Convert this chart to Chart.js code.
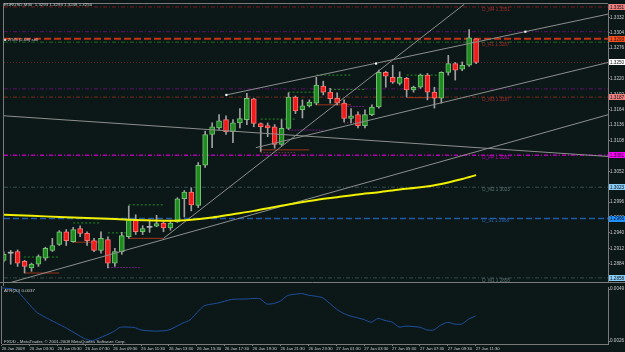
<!DOCTYPE html>
<html><head><meta charset="utf-8">
<script src="https://cdn.jsdelivr.net/npm/chart.js@4.4.1/dist/chart.umd.min.js"></script>
<style>
html,body{margin:0;padding:0;background:#0c1818;overflow:hidden;}
#main{position:absolute;left:0;top:0;}
#atr{position:absolute;left:0;top:286px;}
</style></head><body>
<canvas id="main" width="625" height="286"></canvas>
<canvas id="atr" width="625" height="66"></canvas>
<script>
// ---------- data ----------
const symbolTitle = 'EURUSD,M30  1.3293 1.3293 1.3248 1.3250';
const orderText = '\u25A0 2/5/5 (2.08) sell';
const atrTitle = 'ATR(20) 0.0037';
const copyright = 'FXDD - MetaTrader, \u00A9 2001-2008 MetaQuotes Software Corp.';

const opens  = [1.2890,1.2903,1.2906,1.2888,1.2876,1.2883,1.2894,1.2908,1.2919,1.2942,1.2924,1.2948,1.2939,1.2926,1.2908,1.2928,1.2885,1.2906,1.2933,1.2964,1.2942,1.2950,1.2952,1.2958,1.2949,1.2960,1.3002,1.3014,1.2990,1.3063,1.3119,1.3131,1.3146,1.3124,1.3140,1.3146,1.3184,1.3139,1.3135,1.3133,1.3101,1.3130,1.3187,1.3164,1.3171,1.3176,1.3207,1.3196,1.3185,1.3176,1.3148,1.3155,1.3135,1.3155,1.3169,1.3232,1.3223,1.3212,1.3221,1.3200,1.3205,1.3227,1.3196,1.3185,1.3232,1.3248,1.3238,1.3245,1.3293];
const highs  = [1.2906,1.2908,1.2909,1.2890,1.2885,1.2900,1.2914,1.2930,1.2944,1.2946,1.2950,1.2953,1.2942,1.2930,1.2942,1.2933,1.2912,1.2941,1.2989,1.2973,1.2953,1.2963,1.2972,1.2962,1.2963,1.3004,1.3017,1.3022,1.3068,1.3125,1.3140,1.3155,1.3153,1.3146,1.3166,1.3194,1.3185,1.3140,1.3140,1.3137,1.3146,1.3195,1.3189,1.3182,1.3182,1.3223,1.3216,1.3203,1.3195,1.3182,1.3166,1.3160,1.3164,1.3173,1.3236,1.3234,1.3245,1.3233,1.3223,1.3207,1.3229,1.3230,1.3205,1.3233,1.3263,1.3250,1.3251,1.3310,1.3293];
const lows   = [1.2887,1.2883,1.2879,1.2867,1.2870,1.2879,1.2890,1.2906,1.2917,1.2917,1.2923,1.2933,1.2917,1.2906,1.2903,1.2876,1.2879,1.2901,1.2930,1.2937,1.2937,1.2941,1.2951,1.2942,1.2945,1.2959,1.2969,1.2980,1.2986,1.3059,1.3095,1.3128,1.3119,1.3104,1.3131,1.3137,1.3133,1.3088,1.3115,1.3094,1.3099,1.3128,1.3157,1.3149,1.3169,1.3173,1.3191,1.3176,1.3173,1.3142,1.3140,1.3131,1.3131,1.3153,1.3167,1.3205,1.3212,1.3209,1.3187,1.3196,1.3203,1.3182,1.3167,1.3176,1.3227,1.3218,1.3235,1.3243,1.3248];
const closes = [1.2901,1.2903,1.2885,1.2879,1.2883,1.2897,1.2912,1.2917,1.2942,1.2926,1.2946,1.2939,1.2926,1.2908,1.2930,1.2885,1.2906,1.2935,1.2964,1.2942,1.2948,1.2950,1.2957,1.2949,1.2958,1.3002,1.3014,1.2991,1.3063,1.3119,1.3133,1.3144,1.3124,1.3140,1.3148,1.3185,1.3139,1.3133,1.3131,1.3101,1.3130,1.3187,1.3162,1.3171,1.3178,1.3209,1.3196,1.3184,1.3176,1.3148,1.3153,1.3135,1.3155,1.3169,1.3232,1.3225,1.3214,1.3223,1.3200,1.3205,1.3227,1.3196,1.3185,1.3232,1.3248,1.3236,1.3245,1.3295,1.3250];

const timeTickIdx = [0,4,8,12,16,20,24,28,32,36,40,44,48,52,56,60,64,68];
const timeLabels = ['26 Jan 2009','26 Jan 03:30','26 Jan 05:30','26 Jan 07:30','26 Jan 09:30','26 Jan 11:30','26 Jan 13:30','26 Jan 15:30','26 Jan 17:30','26 Jan 19:30','26 Jan 21:30','26 Jan 23:30','27 Jan 01:30','27 Jan 03:30','27 Jan 05:30','27 Jan 07:30','27 Jan 09:30','27 Jan 11:30'];
const priceTicks = [1.3332,1.3304,1.3276,1.3248,1.3220,1.3192,1.3164,1.3136,1.3108,1.3080,1.3052,1.3024,1.2996,1.2968,1.2940,1.2912,1.2884,1.2856];

const maIdx  = [0,4,8,12,16,20,24,27,30,33,36,39,42,45,48,51,54,57,60,63,66,68];
const maVals = [1.2973,1.2971,1.2969,1.2967,1.2965,1.2963,1.2962,1.2964,1.2968,1.2974,1.2980,1.2987,1.2994,1.3000,1.3005,1.3010,1.3014,1.3019,1.3023,1.3029,1.3038,1.3045];

const atrIdx  = [0,2,5,7,9,12,13,14,16,17,19,20,22,24,26,27,29,31,33,35,37,38,39,40,41,43,44,46,47,48,49,50,52,53,54,55,56,57,58,60,61,62,63,64,65,66,67,68];
const atrVals = [0.00495,0.00486,0.00388,0.00353,0.00322,0.00269,0.00262,0.00273,0.00301,0.00321,0.00320,0.00309,0.00304,0.00309,0.00340,0.00353,0.00415,0.00428,0.00444,0.00446,0.00448,0.00424,0.00426,0.00437,0.00461,0.00470,0.00463,0.00452,0.00428,0.00402,0.00383,0.00371,0.00355,0.00343,0.00360,0.00351,0.00344,0.00322,0.00326,0.00321,0.00309,0.00309,0.00331,0.00343,0.00335,0.00335,0.00357,0.00371];
const atrTicks = [0.0049,0.0026];

const levelNames  = ['D_M4','','','D_R1','','','D_M3','D_PP','D_M2','D_S1','D_M1'];
const levelPrices = [1.3351,1.3306,1.3293,1.3287,1.3250,1.3202,1.3187,1.3081,1.3023,1.2966,1.2858];

const tlStartIdx = [23.0,0.8,36.3,0.0,32.05];
const tlStartVal = [1.2930,1.2849,1.3095,1.3153,1.3191];
const tlEndIdx   = [66.3,87.0,87.0,87.0,87.0];
const tlEndVal   = [1.3356,1.3155,1.3250,1.3079,1.3338];

const dotIdx = [32.05,53.6,75.1];
const dotVal = [1.3191,1.3248,1.3306];

const segStartIdx = [2.9,3,10,10,15,15,18,18,37,37,37,41,41,45,45,47,49,49,58,58];
const segEndIdx   = [7.9,8,14,14.4,18,19.8,23,23,44,42,42,46,46,50,50,52,52,52,63,63];
const segPrice    = [1.2896,1.2867,1.2958,1.2923,1.2940,1.2877,1.2991,1.2930,1.3091,1.3086,1.3147,1.3196,1.3127,1.3227,1.3173,1.3201,1.3170,1.3140,1.3227,1.3186];

// ---------- styles ----------
const BG = '#0c1818';
const FRAME = '#7a7a7a';
const FONT = 'Liberation Sans';
const X_MIN = 0.04, X_MAX = 86.99;
const segKind = ['g','b','g','b','g','p','g','b','b','k','g','g','p','g','b','g','p','k','g','b'];
const segStyles = {g:{c:'#1f8f1f',d:[2,2]}, b:{c:'#9a3418',d:[]}, p:{c:'#6a1a7a',d:[2,1]}, k:{c:'#a8405a',d:[1,2]}};
const levelStyle = [
 {c:'#7a1c1c', d:[4,2,1,2], w:1, box:'#f08080', tc:'#a02a2a'},
 {c:'#5a0f66', d:[4,2,1,2], w:1},
 {c:'#c83214', d:[7,3], w:2, box:'#ff4f1f'},
 {c:'#1c6a1c', d:[4,2,1,2], w:1, tc:'#a02a2a'},
 {c:'#5c2626', d:[1,2], w:1, box:'#ffffff'},
 {c:'#5a0f66', d:[4,2,1,2], w:1},
 {c:'#7a2a1a', d:[4,2,1,2], w:1, box:'#f08080', tc:'#a02a2a'},
 {c:'#b000b0', d:[4,2,1,2], w:1.5, box:'#ff00ff', tc:'#c000c0'},
 {c:'#364c4c', d:[4,2,1,2], w:1, box:'#87cefa', tc:'#55706f'},
 {c:'#1f5aa8', d:[6,3], w:1.5, box:'#1e90ff', tc:'#2a64b4'},
 {c:'#364c4c', d:[4,2,1,2], w:1, box:'#87cefa', tc:'#55706f'}
];

const bgPlugin = {id:'bgfill', beforeDraw(c){const x=c.ctx;x.save();x.fillStyle=BG;x.fillRect(0,0,c.width,c.height);x.restore();}};

const mainOverlay = {id:'mainOverlay', afterDraw(c){
  const ctx=c.ctx, a=c.chartArea, ys=c.scales.y, xs=c.scales.x;
  ctx.save();
  ctx.strokeStyle=FRAME; ctx.lineWidth=1;
  ctx.beginPath(); ctx.moveTo(a.left-0.5,c.height); ctx.lineTo(a.left-0.5,a.top-0.5); ctx.lineTo(a.right,a.top-0.5); ctx.stroke();
  ctx.beginPath(); ctx.moveTo(0,a.bottom+0.5); ctx.lineTo(c.width,a.bottom+0.5); ctx.stroke();
  ctx.font = '4.6px "'+FONT+'"'; ctx.textBaseline='middle'; ctx.textAlign='left';
  const tx = xs.getPixelForValue(68.9);
  levelPrices.forEach((p,k)=>{ if(!levelNames[k]) return; const py=ys.getPixelForValue(p);
    ctx.fillStyle=levelStyle[k].tc; ctx.fillText(levelNames[k]+' '+p.toFixed(4), tx, py+2.5); });
  levelPrices.forEach((p,k)=>{ const s=levelStyle[k]; if(!s.box) return; const py=ys.getPixelForValue(p);
    ctx.fillStyle=s.box; ctx.fillRect(a.right+1, Math.round(py)-3, c.width-a.right-1, 6);
    ctx.fillStyle='#101010'; ctx.fillText(p.toFixed(4), a.right+2, py+0.5); });
  ctx.fillStyle='#c8c8c8'; ctx.font='4.4px "'+FONT+'"';
  ctx.fillText(symbolTitle, 4, 4.8);
  ctx.fillText(orderText, 4, ys.getPixelForValue(levelPrices[2])+1);
  ctx.restore();
}};

const atrOverlay = {id:'atrOverlay', afterDraw(c){
  const ctx=c.ctx, a=c.chartArea;
  ctx.save();
  ctx.strokeStyle=FRAME; ctx.lineWidth=1;
  ctx.beginPath(); ctx.moveTo(a.left-0.5,0); ctx.lineTo(a.left-0.5,a.bottom); ctx.stroke();
  ctx.fillStyle='#c8c8c8'; ctx.font='4.4px "'+FONT+'"'; ctx.textBaseline='middle'; ctx.textAlign='left';
  ctx.fillText(atrTitle, 4, 4.5);
  ctx.fillText(copyright, 4, 55.3);
  ctx.restore();
}};

// ---------- main chart ----------
const idx = opens.map((_,i)=>i);
const ds = [];
levelPrices.forEach((p,k)=>{ const s=levelStyle[k];
  ds.push({type:'line', data:[{x:X_MIN,y:p},{x:X_MAX,y:p}], borderColor:s.c, borderWidth:s.w, borderDash:s.d, pointRadius:0, order:10, clip:0}); });
segPrice.forEach((p,k)=>{ const s=segStyles[segKind[k]];
  ds.push({type:'line', data:[{x:segStartIdx[k],y:p},{x:segEndIdx[k],y:p}], borderColor:s.c, borderDash:s.d, borderWidth:1, pointRadius:0, order:9, clip:0}); });
ds.push({type:'bar', data: idx.map(i=>({x:i,y:[lows[i],highs[i]]})), backgroundColor:'#a0a0a0', borderWidth:0, barThickness:1, grouped:false, order:8, clip:0});
ds.push({type:'bar', data: idx.map(i=>({x:i,y:[Math.min(opens[i],closes[i]),Math.max(opens[i],closes[i])]})),
  backgroundColor: idx.map(i=> closes[i]>opens[i]?'#1f8c1f':closes[i]<opens[i]?'#f01c1c':'#b4b4b4'),
  borderColor: idx.map(i=> closes[i]>opens[i]?'#78c078':closes[i]<opens[i]?'#ff7070':'#b4b4b4'),
  borderWidth: idx.map(i=> closes[i]===opens[i]?0:1), borderSkipped:false, minBarLength:1,
  barThickness:5, grouped:false, order:7, clip:0});
tlStartIdx.forEach((s,k)=>{
  ds.push({type:'line', data:[{x:s,y:tlStartVal[k]},{x:tlEndIdx[k],y:tlEndVal[k]}], borderColor:'#8e8e8e', borderWidth:1, pointRadius:0, order:2, clip:0}); });
ds.push({type:'line', data: maIdx.map((x,k)=>({x, y:maVals[k]})), borderColor:'#f0f000', borderWidth:2, pointRadius:0, tension:0.3, order:1, clip:0});
ds.push({type:'line', data: dotIdx.map((x,k)=>({x, y:dotVal[k]})), showLine:false, pointStyle:'rect', pointRadius:1.5, pointBackgroundColor:'#ffffff', pointBorderWidth:0, order:0, clip:0});

const yTickFont = {family:FONT, size:4.6, lineHeight:0.4};
new Chart(document.getElementById('main'), {
  type:'bar', data:{datasets:ds},
  options:{responsive:false, animation:false, events:[],
    layout:{padding:{left:2,top:3,right:0,bottom:2}},
    plugins:{legend:{display:false}, tooltip:{enabled:false}},
    scales:{
      x:{type:'linear', min:X_MIN, max:X_MAX, display:false, offset:false},
      y:{position:'right', min:1.28506, max:1.33564,
         afterBuildTicks:s=>{s.ticks=priceTicks.map(v=>({value:v}));},
         afterFit:s=>{s.width=17;},
         ticks:{color:'#c8c8c8', font:yTickFont, padding:0, autoSkip:false, callback:v=>Number(v).toFixed(4)},
         grid:{display:true, drawOnChartArea:false, drawTicks:true, tickLength:2, color:FRAME},
         border:{display:true, color:FRAME}}
    }},
  plugins:[bgPlugin, mainOverlay]
});

// ---------- ATR chart ----------
new Chart(document.getElementById('atr'), {
  type:'line',
  data:{datasets:[{data: atrIdx.map((x,k)=>({x, y:atrVals[k]})), borderColor:'#1f4f9f', borderWidth:1, pointRadius:0, tension:0.2, clip:0}]},
  options:{responsive:false, animation:false, events:[],
    layout:{padding:{left:2,top:1,right:0,bottom:0}},
    plugins:{legend:{display:false}, tooltip:{enabled:false}},
    scales:{
      x:{type:'linear', min:X_MIN, max:X_MAX, offset:false,
         afterBuildTicks:s=>{s.ticks=timeTickIdx.map(v=>({value:v}));},
         afterFit:s=>{s.height=8;},
         ticks:{color:'#c8c8c8', font:{family:FONT, size:4.2, lineHeight:1}, padding:1, maxRotation:0, minRotation:0, autoSkip:false, align:'start', callback:(v,i)=>timeLabels[i]},
         grid:{display:true, drawOnChartArea:false, drawTicks:true, tickLength:2, color:FRAME},
         border:{display:true, color:FRAME}},
      y:{position:'right', min:0.00247, max:0.00499,
         afterBuildTicks:s=>{s.ticks=atrTicks.map(v=>({value:v}));},
         afterFit:s=>{s.width=17;},
         ticks:{color:'#c8c8c8', font:yTickFont, padding:0, autoSkip:false, callback:v=>Number(v).toFixed(4)},
         grid:{display:true, drawOnChartArea:false, drawTicks:true, tickLength:2, color:FRAME},
         border:{display:true, color:FRAME}}
    }},
  plugins:[bgPlugin, atrOverlay]
});
</script>
</body></html>
